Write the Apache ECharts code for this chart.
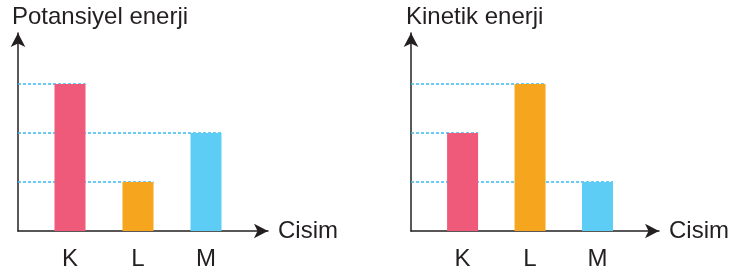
<!DOCTYPE html>
<html>
<head>
<meta charset="utf-8">
<script src="https://cdn.jsdelivr.net/npm/echarts@6/dist/echarts.min.js"></script>
<style>
  html, body { margin: 0; padding: 0; background: #fff; }
  #chart { width: 732px; height: 278px; }
</style>
</head>
<body>
<div id="chart"></div>
<script>
// veriler
const categories = ['K', 'L', 'M'];
const potansiyel = [3, 1, 2];
const kinetik = [2, 3, 1];
const barColors = ['#ef5a7b', '#f6a51f', '#5ecdf6'];

const AXIS_COLOR = '#231f20';
const DASH_COLOR = '#3dbbee';
const FONT = 'Liberation Sans, Arial, sans-serif';
const BAR_W = 31;
const GRID_W = 250, GRID_H = 198;
const PX_PER_UNIT = 68;
const X_MIN = -52 / PX_PER_UNIT;
const X_MAX = X_MIN + GRID_W / PX_PER_UNIT;
const Y_MAX = GRID_H / 49;
const HALF_BAR = BAR_W / 2 / PX_PER_UNIT;

const chart = echarts.init(document.getElementById('chart'), null, { renderer: 'canvas' });

const arrowLine = {
  show: true,
  onZero: false,
  symbol: ['none', 'arrow'],
  symbolSize: [11, 14],
  lineStyle: { color: AXIS_COLOR, width: 1.5 }
};

function xAxisFor(gridIndex) {
  return {
    type: 'value',
    gridIndex: gridIndex,
    min: X_MIN,
    max: X_MAX,
    name: 'Cisim',
    nameLocation: 'end',
    nameGap: 10,
    nameTextStyle: { color: AXIS_COLOR, fontSize: 24, fontFamily: FONT, verticalAlign: 'middle' },
    splitLine: { show: false },
    axisTick: { show: false },
    axisLine: arrowLine,
    axisLabel: {
      customValues: [0, 1, 2],
      formatter: v => categories[Math.round(v)],
      color: AXIS_COLOR,
      fontSize: 24,
      fontFamily: FONT,
      margin: 16
    }
  };
}

function yAxisFor(gridIndex) {
  return {
    type: 'value',
    gridIndex: gridIndex,
    min: 0,
    max: Y_MAX,
    splitLine: { show: false },
    axisTick: { show: false },
    axisLabel: { show: false },
    axisLine: arrowLine
  };
}

function seriesFor(values, gridIndex) {
  const out = [{
    type: 'bar',
    xAxisIndex: gridIndex,
    yAxisIndex: gridIndex,
    barWidth: BAR_W,
    z: 3,
    data: values.map((v, i) => ({ value: [i, v], itemStyle: { color: barColors[i] } }))
  }];
  // kesikli yardımcı çizgiler: eksenden sütuna kadar
  values.forEach((v, i) => {
    out.push({
      type: 'line',
      xAxisIndex: gridIndex,
      yAxisIndex: gridIndex,
      symbol: 'none',
      silent: true,
      z: 2,
      lineStyle: { color: DASH_COLOR, width: 1.5, type: [3, 2] },
      data: [[X_MIN, v], [i + HALF_BAR, v]]
    });
  });
  return out;
}

const titleStyle = { color: AXIS_COLOR, fontSize: 24, fontWeight: 'normal', fontFamily: FONT };

const option = {
  animation: false,
  title: [
    { text: 'Potansiyel enerji', left: 7, top: 0, textStyle: titleStyle },
    { text: 'Kinetik enerji', left: 401, top: 0, textStyle: titleStyle }
  ],
  grid: [
    { left: 18, top: 33, width: GRID_W, height: GRID_H },
    { left: 411, top: 33, width: GRID_W, height: GRID_H }
  ],
  xAxis: [xAxisFor(0), xAxisFor(1)],
  yAxis: [yAxisFor(0), yAxisFor(1)],
  series: seriesFor(potansiyel, 0).concat(seriesFor(kinetik, 1))
};

chart.setOption(option);
</script>
</body>
</html>
